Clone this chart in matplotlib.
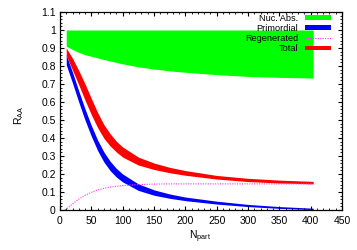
import matplotlib
matplotlib.use('Agg')
import matplotlib.pyplot as plt
import numpy as np
from matplotlib.patches import Patch
from matplotlib.lines import Line2D
from matplotlib.ticker import MultipleLocator, FuncFormatter

plt.rcParams['font.family'] = ['Liberation Sans', 'DejaVu Sans']
plt.rcParams['mathtext.fontset'] = 'custom'
plt.rcParams['mathtext.rm'] = 'Liberation Sans'

# N_part grid
npart = [10, 20, 30, 40, 50, 60, 70, 80, 90, 100, 125, 150, 175, 200, 250, 300, 350, 404]

# nuclear absorption band: lower edge (upper edge is 1)
nuc_low = [0.91, 0.892, 0.876, 0.863, 0.854, 0.845, 0.836, 0.828, 0.82, 0.812,
           0.795, 0.783, 0.773, 0.765, 0.752, 0.742, 0.737, 0.733]

# primordial: centre and half width
prim = [0.835, 0.735, 0.63, 0.53, 0.44, 0.36, 0.295, 0.245, 0.207, 0.178,
        0.127, 0.097, 0.077, 0.062, 0.041, 0.025, 0.014, 0.006]
prim_err = [0.028, 0.03, 0.031, 0.031, 0.03, 0.029, 0.028, 0.026, 0.024, 0.022,
            0.018, 0.015, 0.012, 0.01, 0.008, 0.006, 0.005, 0.004]

# total: centre and half width
total = [0.88, 0.81, 0.735, 0.655, 0.575, 0.5, 0.437, 0.39, 0.352, 0.322,
         0.272, 0.243, 0.222, 0.206, 0.182, 0.167, 0.158, 0.152]
total_err = [0.02, 0.033, 0.04, 0.045, 0.045, 0.042, 0.038, 0.034, 0.03, 0.028,
             0.022, 0.018, 0.015, 0.013, 0.01, 0.009, 0.008, 0.007]

# regenerated
npart_reg = [8, 10, 20, 30, 40, 50, 60, 70, 80, 90, 100, 125, 150, 175, 200, 250, 300, 350, 404]
regen = [0.0, 0.005, 0.034, 0.06, 0.082, 0.098, 0.111, 0.12, 0.127, 0.132, 0.136,
         0.141, 0.144, 0.145, 0.145, 0.145, 0.145, 0.145, 0.145]

labels = ['Nuc. Abs.', 'Primordial', 'Regenerated', 'Total']

npart = np.array(npart)
prim = np.array(prim)
prim_err = np.array(prim_err)
total = np.array(total)
total_err = np.array(total_err)

fig = plt.figure(figsize=(3.57, 2.5), dpi=100)
ax = fig.add_axes([0.168, 0.16, 0.79, 0.792])

ax.fill_between(npart, nuc_low, 1.0, color='#00ff00', lw=0)
ax.fill_between(npart, prim - prim_err, prim + prim_err, color='#0000ff', lw=0)
ax.plot(npart_reg, regen, color='#ff33ff', ls=(0, (1, 1.2)), lw=0.8)
ax.fill_between(npart, total - total_err, total + total_err, color='#ff0000', lw=0)

ax.set_xlim(0, 450)
ax.set_ylim(0, 1.1)
ax.xaxis.set_major_locator(MultipleLocator(50))
ax.xaxis.set_minor_locator(MultipleLocator(10))
ax.yaxis.set_major_locator(MultipleLocator(0.1))
ax.yaxis.set_minor_locator(MultipleLocator(0.02))
ax.yaxis.set_major_formatter(FuncFormatter(lambda v, p: f'{v:.1f}'.rstrip('0').rstrip('.')))
ax.tick_params(which='both', direction='in', top=True, right=True, labelsize=7.5)
ax.tick_params(which='major', length=3, width=0.8)
ax.tick_params(which='minor', length=1.5, width=0.6)
ax.tick_params(axis='x', pad=4)
ax.tick_params(axis='y', pad=3)
for s in ax.spines.values():
    s.set_linewidth(0.9)

ax.set_xlabel('N$_{\\rm part}$', fontsize=7.5)
ax.set_ylabel('R$_{\\rm AA}$', fontsize=7.5)
ax.xaxis.set_label_coords(0.496, -0.095)
ax.yaxis.set_label_coords(-0.12, 0.48)

handles = [Patch(color='#00ff00', lw=0),
           Patch(color='#0000ff', lw=0),
           Line2D([], [], color='#ff33ff', ls=(0, (1, 1.2)), lw=0.8),
           Patch(color='#ff0000', lw=0)]
leg = ax.legend(handles, labels, loc='upper right', bbox_to_anchor=(0.961, 0.99),
                frameon=False, markerfirst=False, fontsize=6.6, borderpad=0,
                borderaxespad=0, handlelength=2.8, handleheight=0.45,
                handletextpad=0.75, labelspacing=0.12)
# gnuplot-style right aligned labels
for t in leg.get_texts():
    t.set_ha('right')

fig.savefig('out.png', dpi=100)
